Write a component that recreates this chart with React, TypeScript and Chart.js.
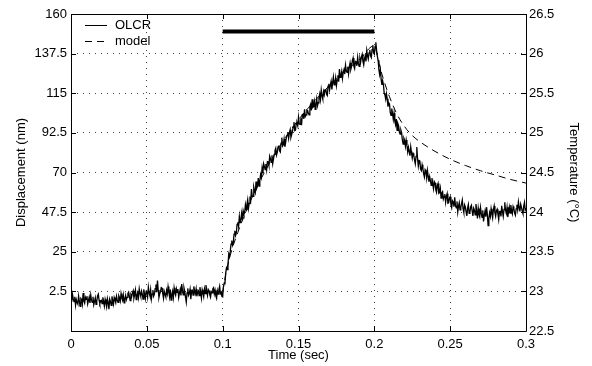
import React, { useEffect, useRef } from "react";
import { Chart, registerables } from "chart.js";

Chart.register(...registerables);

const FONT = "'Liberation Sans', Arial, Helvetica, sans-serif";

// Axis ticks
const X_TICKS = [0, 0.05, 0.1, 0.15, 0.2, 0.25, 0.3];
const X_LABELS = ["0", "0.05", "0.1", "0.15", "0.2", "0.25", "0.3"];
const Y_TICKS = [-20, 2.5, 25, 47.5, 70, 92.5, 115, 137.5, 160];
const Y_LABELS = ["", "2.5", "25", "47.5", "70", "92.5", "115", "137.5", "160"];
const T_TICKS = [22.5, 23, 23.5, 24, 24.5, 25, 25.5, 26, 26.5];
const T_LABELS = ["22.5", "23", "23.5", "24", "24.5", "25", "25.5", "26", "26.5"];

// OLCR measurement, sampled every 0.5 ms from t = 0 s (one row = 10 ms)
const OLCR_START = 0;
const OLCR_STEP = 0.0005;
const OLCR = [
  -1.0, -3.4, 0.7, -1.8, -3.3, -0.6, -5.4, -2.2, -3.9, -4.8, -0.1, -3.0, -6.0, -1.5, -2.1, -4.7, 1.6, -2.9, -4.2, -0.9,
  -2.0, -0.2, -4.6, -2.7, -0.8, -4.0, 0.4, -2.5, -3.7, -0.6, -5.1, -3.3, -1.2, -4.9, -3.0, -0.1, 0.9, -2.4, -4.4, -3.1,
  -2.6, -4.5, -0.9, -3.2, -5.8, -2.0, -4.1, -6.3, -1.7, -3.9, -7.6, -1.9, -3.2, -5.4, -0.4, -2.8, -4.9, -1.0, -2.3, -3.9,
  -0.3, -2.4, -3.8, 0.0, -1.1, -3.0, 1.3, -1.2, -2.6, 0.4, -4.0, -1.7, 0.2, -2.3, -0.9, 1.4, 2.1, -0.5, -2.8, 0.6,
  -0.5, 1.7, 2.9, -1.3, 0.6, 3.2, -2.1, 0.2, 1.8, -1.0, 4.0, 1.3, -0.4, 2.6, 0.9, -1.9, 3.7, 0.8, -1.6, 2.5,
  2.4, -0.7, 4.9, 1.8, 0.1, 3.5, -1.8, 0.9, 3.3, -0.2, 1.0, 4.1, 6.4, 2.0, 8.6, 3.3, -0.9, 1.1, 2.2, 4.6,
  4.3, 1.2, -1.5, 2.4, 0.8, -0.6, 3.1, 1.0, 5.2, 2.1, -0.7, 3.6, -2.4, 0.5, 2.6, -0.9, 4.5, 1.7, 0.3, 3.9,
  1.9, 3.8, -1.0, 1.5, 3.6, 0.2, 6.7, 2.9, 0.5, 4.4, 2.3, -0.8, -3.6, 1.6, 4.2, 0.3, 1.4, 3.7, -1.9, 2.5,
  3.0, 0.4, 5.3, 2.8, 1.1, 3.9, -0.3, 1.9, 2.7, 0.1, 4.9, 2.3, -1.2, 3.4, 1.6, -0.5, 3.8, 1.2, 6.1, 2.7,
  0.2, 3.6, 2.9, 0.7, -0.8, 2.4, 1.7, 4.0, 4.6, 1.1, 3.1, 0.0, -1.4, 2.8, 0.9, 3.5, 5.4, 1.3, 2.0, -0.3,
  -0.6, 5.2, 7.1, 6.9, 12.9, 15.8, 14.8, 17.4, 23.6, 22.1, 25.2, 29.3, 31.4, 28.7, 30.1, 35.0, 36.9, 34.2, 35.7, 40.6,
  41.8, 39.3, 45.0, 41.6, 43.3, 46.9, 43.2, 48.3, 46.4, 47.1, 51.7, 48.9, 52.0, 54.6, 49.7, 52.5, 56.4, 54.2, 60.6, 56.4,
  56.5, 61.7, 59.6, 58.4, 64.9, 61.2, 62.4, 66.9, 62.3, 65.3, 68.8, 67.1, 72.5, 69.6, 75.0, 73.4, 71.6, 74.8, 71.6, 76.2,
  76.1, 74.0, 79.3, 77.9, 75.7, 79.8, 75.0, 77.6, 80.3, 82.4, 83.7, 79.9, 81.4, 84.6, 85.4, 82.3, 81.6, 86.7, 89.8, 85.1,
  85.8, 89.0, 84.6, 86.9, 89.9, 91.2, 92.8, 89.4, 92.5, 94.3, 90.0, 91.6, 93.2, 96.0, 98.6, 93.8, 94.1, 97.9, 98.1, 96.5,
  101.4, 97.6, 97.3, 100.8, 96.9, 102.9, 103.0, 100.5, 105.9, 101.8, 102.7, 105.5, 105.2, 103.6, 102.8, 107.4, 108.7, 105.3, 111.6, 107.0,
  107.5, 110.3, 105.9, 108.8, 111.9, 107.9, 109.6, 112.4, 114.6, 111.5, 116.9, 113.6, 111.8, 115.9, 114.1, 117.0, 117.3, 114.4, 113.7, 119.1,
  120.4, 116.9, 119.6, 121.8, 117.2, 120.9, 124.2, 119.7, 120.5, 123.8, 119.3, 122.4, 125.2, 121.6, 128.7, 124.0, 125.1, 127.5, 123.4, 126.9,
  128.5, 125.9, 130.9, 127.7, 126.8, 130.1, 126.0, 129.8, 132.2, 128.6, 130.3, 133.5, 135.0, 130.4, 129.0, 133.1, 132.8, 130.6, 135.4, 131.8,
  130.3, 134.8, 132.9, 135.6, 137.1, 133.0, 131.1, 134.6, 136.2, 133.1, 139.3, 136.4, 134.5, 137.9, 139.6, 136.2, 135.3, 139.8, 142.3, 138.0,
  137.2, 141.6, 143.9, 139.2, 136.0, 133.7, 128.4, 125.6, 128.4, 122.8, 119.7, 122.1, 119.8, 115.1, 114.0, 111.6, 114.7, 111.9, 107.4, 109.6,
  108.9, 104.1, 102.4, 106.3, 103.4, 100.2, 103.8, 99.1, 97.1, 100.4, 94.0, 97.8, 96.6, 93.0, 91.8, 94.1, 92.5, 88.3, 86.1, 89.4,
  88.2, 84.9, 88.4, 85.6, 81.7, 84.3, 81.9, 79.6, 84.5, 81.3, 78.2, 80.9, 79.9, 77.1, 74.9, 79.2, 84.5, 77.9, 73.7, 76.8,
  76.6, 72.0, 71.1, 74.4, 72.2, 69.3, 67.4, 71.6, 70.8, 66.9, 71.2, 68.0, 64.8, 67.6, 65.1, 62.7, 66.9, 63.5, 60.8, 64.9,
  64.1, 60.3, 58.7, 62.5, 63.8, 58.2, 58.6, 61.1, 55.5, 58.4, 59.1, 55.0, 56.4, 57.8, 53.1, 56.3, 58.0, 52.6, 52.8, 55.4,
  56.2, 51.8, 50.1, 54.0, 53.3, 50.6, 55.9, 51.2, 49.9, 53.6, 47.6, 50.9, 52.8, 48.8, 50.0, 52.3, 54.4, 49.4, 47.3, 51.6,
  50.4, 47.6, 45.4, 49.9, 51.8, 46.8, 47.2, 50.5, 51.4, 48.1, 45.3, 49.7, 48.6, 46.0, 52.1, 48.4, 43.9, 49.6, 46.2, 44.8,
  50.1, 46.9, 44.6, 48.5, 42.2, 45.6, 48.2, 44.9, 50.3, 46.3, 39.9, 43.7, 47.1, 45.0, 49.4, 46.6, 44.2, 48.9, 51.0, 47.2,
  45.1, 48.3, 49.2, 46.4, 43.3, 47.9, 48.0, 45.1, 51.1, 47.6, 45.0, 49.0, 53.1, 48.6, 46.8, 50.2, 44.7, 47.8, 50.4, 46.9,
  51.5, 48.2, 46.5, 50.7, 49.4, 47.0, 45.8, 49.3, 51.7, 48.8, 53.3, 50.1, 47.9, 52.0, 50.3, 48.1, 46.6, 50.9, 53.0, 48.6,
  49.8,
];

// Thermal model
const MODEL_T = [0.1, 0.102, 0.105, 0.11, 0.115, 0.12, 0.13, 0.14, 0.15, 0.16, 0.17, 0.18, 0.19, 0.2,
  0.203, 0.206, 0.21, 0.215, 0.22, 0.225, 0.23, 0.24, 0.25, 0.26, 0.27, 0.28, 0.29, 0.3];
const MODEL_Y = [2, 12, 23, 36, 47, 57, 74, 88, 100, 110, 119, 127, 134, 142,
  132, 123, 113, 103, 96, 91, 87.5, 82, 77.5, 74, 71, 68.5, 66, 64];

// Heating interval bar
const HEAT_T = [0.1, 0.2];
const HEAT_Y = [150, 150];

const framePlugin = {
  id: "frame",
  afterDraw(chart: any) {
    const { ctx, chartArea } = chart;
    const { left, right, top, bottom } = chartArea;
    const x = chart.scales.x;
    const y = chart.scales.y;
    const t = chart.scales.t;
    ctx.save();
    ctx.strokeStyle = "#000";
    ctx.lineWidth = 1;
    ctx.beginPath();
    ctx.rect(Math.round(left) + 0.5, Math.round(top) + 0.5, Math.round(right - left), Math.round(bottom - top));
    ctx.stroke();
    const len = 5;
    ctx.beginPath();
    X_TICKS.forEach((v) => {
      const px = Math.round(x.getPixelForValue(v)) + 0.5;
      ctx.moveTo(px, bottom);
      ctx.lineTo(px, bottom - len);
      ctx.moveTo(px, top);
      ctx.lineTo(px, top + len);
    });
    Y_TICKS.forEach((v) => {
      const py = Math.round(y.getPixelForValue(v)) + 0.5;
      ctx.moveTo(left, py);
      ctx.lineTo(left + len, py);
    });
    T_TICKS.forEach((v) => {
      const py = Math.round(t.getPixelForValue(v)) + 0.5;
      ctx.moveTo(right, py);
      ctx.lineTo(right - len, py);
    });
    ctx.stroke();
    ctx.restore();
  },
};

const legendPlugin = {
  id: "innerLegend",
  afterDraw(chart: any) {
    const { ctx, chartArea } = chart;
    const items = chart.data.datasets.filter((d: any) => d.inLegend);
    ctx.save();
    ctx.font = `13px ${FONT}`;
    ctx.textBaseline = "middle";
    ctx.fillStyle = "#000";
    items.forEach((d: any, i: number) => {
      const cy = Math.round(chartArea.top + 11 + i * 16) + 0.5;
      ctx.strokeStyle = "#000";
      ctx.lineWidth = 1;
      ctx.setLineDash(d.borderDash || []);
      ctx.beginPath();
      ctx.moveTo(chartArea.left + 14, cy);
      ctx.lineTo(chartArea.left + 36, cy);
      ctx.stroke();
      ctx.setLineDash([]);
      ctx.fillText(d.label, chartArea.left + 44, cy);
    });
    ctx.restore();
  },
};

export default function App() {
  const ref = useRef<HTMLCanvasElement | null>(null);

  useEffect(() => {
    if (!ref.current) return;
    const olcrData = OLCR.map((v, i) => ({ x: OLCR_START + i * OLCR_STEP, y: v }));
    const modelData = MODEL_T.map((tv, i) => ({ x: tv, y: MODEL_Y[i] }));
    const heatData = HEAT_T.map((tv, i) => ({ x: tv, y: HEAT_Y[i] }));

    const chart = new Chart(ref.current, {
      type: "line",
      data: {
        datasets: [
          {
            label: "OLCR",
            inLegend: true,
            data: olcrData,
            borderColor: "#000",
            borderWidth: 1.3,
            pointRadius: 0,
            tension: 0,
            yAxisID: "y",
          } as any,
          {
            label: "model",
            inLegend: true,
            data: modelData,
            borderColor: "#000",
            borderWidth: 1,
            borderDash: [7, 5],
            pointRadius: 0,
            cubicInterpolationMode: "monotone",
            yAxisID: "y",
          } as any,
          {
            label: "heating",
            data: heatData,
            borderColor: "#000",
            borderWidth: 4,
            pointRadius: 0,
            yAxisID: "y",
          } as any,
        ],
      },
      options: {
        animation: false,
        responsive: false,
        devicePixelRatio: 1,
        layout: { padding: { top: 14, left: 0, right: 0, bottom: 0 } },
        plugins: {
          legend: { display: false },
          tooltip: { enabled: false },
        },
        scales: {
          x: {
            type: "linear",
            min: 0,
            max: 0.3,
            afterBuildTicks: (s: any) => {
              s.ticks = X_TICKS.map((v) => ({ value: v }));
            },
            afterFit: (s: any) => {
              s.height = 35;
            },
            ticks: {
              callback: (v: any) => X_LABELS[X_TICKS.indexOf(v)] ?? "",
              color: "#000",
              font: { family: FONT, size: 13 },
              padding: 6,
              maxRotation: 0,
              autoSkip: false,
            },
            grid: { color: "#444", lineWidth: 1, drawTicks: false },
            border: { display: false, dash: [1, 5] },
            title: {
              display: true,
              text: "Time (sec)",
              color: "#000",
              font: { family: FONT, size: 13 },
              padding: { top: 0, bottom: 3 },
            },
          },
          y: {
            type: "linear",
            position: "left",
            min: -20,
            max: 160,
            afterBuildTicks: (s: any) => {
              s.ticks = Y_TICKS.map((v) => ({ value: v }));
            },
            afterFit: (s: any) => {
              s.width = 71;
            },
            ticks: {
              callback: (v: any) => Y_LABELS[Y_TICKS.indexOf(v)] ?? "",
              color: "#000",
              font: { family: FONT, size: 13 },
              padding: 4,
              autoSkip: false,
            },
            grid: { color: "#444", lineWidth: 1, drawTicks: false },
            border: { display: false, dash: [1, 5] },
            title: {
              display: true,
              text: "Displacement (nm)",
              color: "#000",
              font: { family: FONT, size: 13 },
              padding: { top: 14, bottom: 14 },
            },
          },
          t: {
            type: "linear",
            position: "right",
            min: 22.5,
            max: 26.5,
            afterBuildTicks: (s: any) => {
              s.ticks = T_TICKS.map((v) => ({ value: v }));
            },
            afterFit: (s: any) => {
              s.width = 66;
            },
            ticks: {
              callback: (v: any) => T_LABELS[T_TICKS.indexOf(v)] ?? "",
              color: "#000",
              font: { family: FONT, size: 13 },
              padding: 3,
              autoSkip: false,
            },
            grid: { display: false, drawTicks: false },
            border: { display: false },
            title: {
              display: true,
              text: "Temperature (°C)",
              color: "#000",
              font: { family: FONT, size: 13 },
              padding: { top: 11, bottom: 11 },
            },
          },
        },
      } as any,
      plugins: [framePlugin, legendPlugin],
    });
    return () => chart.destroy();
  }, []);

  return (
    <div style={{ position: "absolute", left: 0, top: 0, width: 592, height: 366, background: "#fff" }}>
      <canvas ref={ref} width={592} height={366} style={{ display: "block", width: 592, height: 366 }} />
    </div>
  );
}
